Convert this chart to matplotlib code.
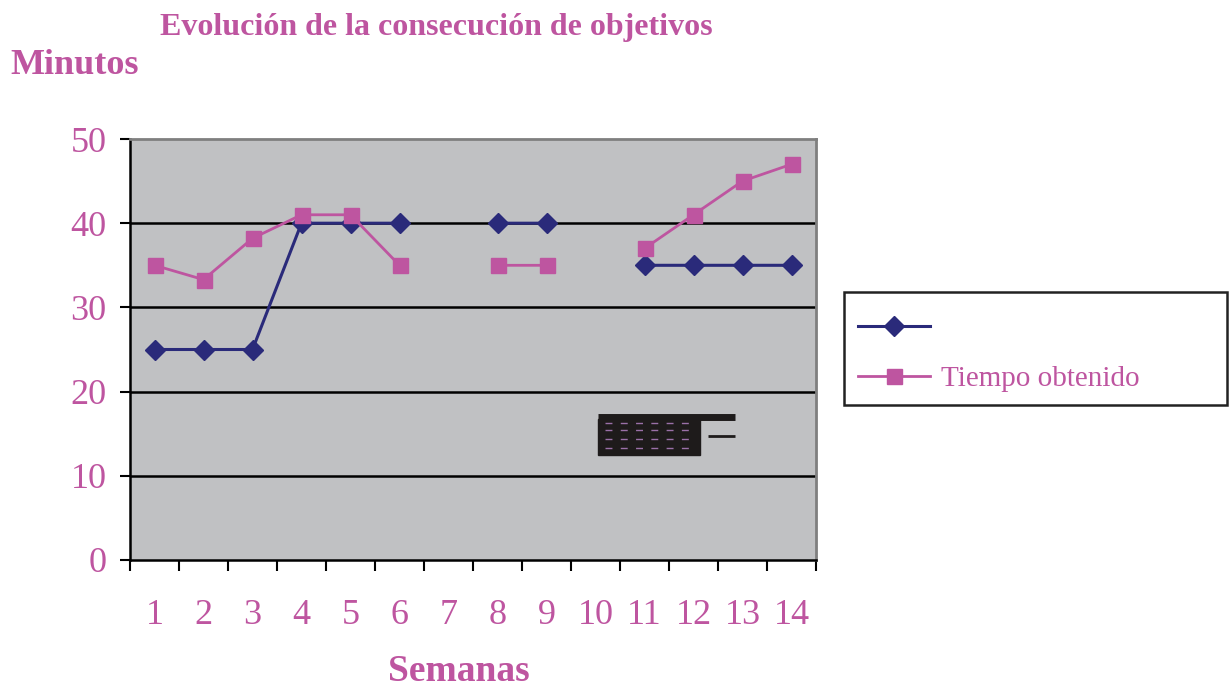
import numpy as np
import matplotlib.pyplot as plt
from matplotlib.patches import Rectangle

# datos
semanas = ['1', '2', '3', '4', '5', '6', '7', '8', '9', '10', '11', '12', '13', '14']
tiempo_objetivo = [25, 25, 25, 40, 40, 40, np.nan, 40, 40, np.nan, 35, 35, 35, 35]
tiempo_obtenido = [35, 33.3, 38.2, 41, 41, 35, np.nan, 35, 35, np.nan, 37, 41, 45, 47]

navy = '#2A2A7A'
pink = '#BE55A0'
plt.rcParams['font.family'] = ['Liberation Serif', 'DejaVu Serif']

fig = plt.figure(figsize=(12.29, 6.91), dpi=100)
ax = fig.add_axes([130 / 1229, 1 - 560 / 691, 686 / 1229, 421 / 691])
ax.set_facecolor('#C0C1C3')

x = np.arange(len(semanas))
ax.plot(x, tiempo_objetivo, color=navy, lw=2.2, marker='D', ms=10.5, label=' ')
ax.plot(x, tiempo_obtenido, color=pink, lw=2.0, marker='s', ms=10.8, label='Tiempo obtenido')

ax.set_xlim(-0.5, len(semanas) - 0.5)
ax.set_ylim(0, 50)
ax.set_yticks(range(0, 51, 10))
for yv in range(10, 50, 10):
    ax.axhline(yv, color='black', lw=1.8, zorder=1)

# ticks en los límites de cada categoría, etiquetas en el centro
ax.set_xticks(np.arange(-0.5, len(semanas), 1))
ax.set_xticklabels([])
ax.set_xticks(x, minor=True)
ax.set_xticklabels(semanas, minor=True)
ax.tick_params(axis='x', which='major', direction='out', length=8, width=1.5, color='black')
ax.tick_params(axis='x', which='minor', length=0, pad=28, labelsize=26, labelcolor=pink)
ax.tick_params(axis='y', direction='out', length=7, width=1.5, labelsize=26, labelcolor=pink, pad=10)

for side in ['top', 'right']:
    ax.spines[side].set_color('#7F7F7F')
    ax.spines[side].set_linewidth(2)
for side in ['left', 'bottom']:
    ax.spines[side].set_color('black')
    ax.spines[side].set_linewidth(1.8)

# mancha negra que aparece en el original
ax.add_patch(Rectangle((9.05, 12.5), 2.08, 4.3, color='#1E1B1B', zorder=5))
ax.plot([9.05, 11.85], [17.0, 17.0], color='#1E1B1B', lw=5, solid_capstyle='butt', zorder=5)
ax.plot([11.3, 11.85], [14.7, 14.7], color='#1E1B1B', lw=2, solid_capstyle='butt', zorder=5)
for yy in [13.3, 14.4, 15.4, 16.3]:
    ax.plot([9.2, 10.9], [yy, yy], color='#9A70A8', lw=1.0, ls=(0, (5, 6)), zorder=6)

fig.text(160 / 1229, 1 - 27 / 691, 'Evolución de la consecución de objetivos',
         color=pink, fontsize=23, fontweight='bold', va='center', ha='left')
fig.text(10 / 1229, 1 - 66 / 691, 'Minutos', color=pink, fontsize=26,
         fontweight='bold', va='center', ha='left')
fig.text(459 / 1229, 1 - 681 / 691, 'Semanas', color=pink, fontsize=27,
         fontweight='bold', va='baseline', ha='center')

# caja de la leyenda
fig.patches.append(Rectangle((844 / 1229, 1 - 405 / 691), 383 / 1229, 113 / 691,
                             transform=fig.transFigure, fill=False,
                             edgecolor='#222222', lw=1.8))
h, l = ax.get_legend_handles_labels()
leg = fig.legend(h, l, loc='upper left', bbox_to_anchor=(832 / 1229, 1 - 290 / 691),
                 frameon=False, fontsize=21, handlelength=2.45, labelspacing=0.8,
                 handletextpad=0.4)
for t in leg.get_texts():
    t.set_color(pink)

fig.savefig('out.png', dpi=100)
